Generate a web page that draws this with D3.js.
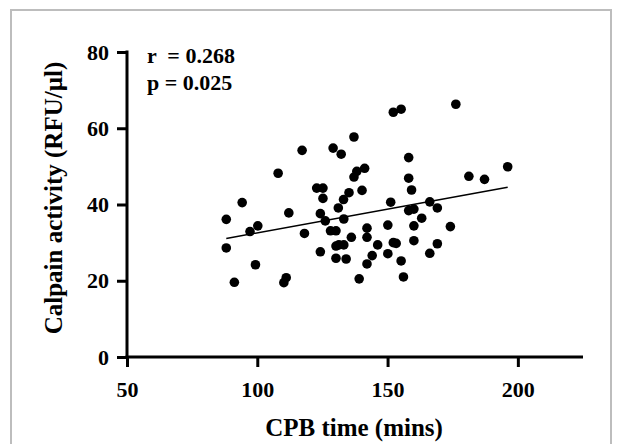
<!DOCTYPE html>
<html>
<head>
<meta charset="utf-8">
<script src="https://cdn.jsdelivr.net/npm/d3@7"></script>
<style>
  html, body { margin: 0; padding: 0; background: #fff; }
  svg { display: block; }
  text { font-family: "Liberation Serif", "Times New Roman", serif; font-weight: bold; fill: #000; }
</style>
</head>
<body>
<svg id="chart" width="619" height="444"></svg>
<script>
// CPB time (mins)
const cpbTime = [88.1, 88.1, 91.2, 94.2, 97.2, 100.2, 99.3, 108.0, 110.2, 111.1,
  112.1, 117.2, 118.1, 122.8, 125.2, 125.2, 124.2, 126.1, 124.2, 128.1,
  130.2, 129.1, 132.2, 131.1, 133.1, 133.2, 130.2, 131.3, 133.2, 130.2,
  134.1, 135.2, 136.1, 137.1, 137.1, 138.2, 140.2, 141.2, 142.1, 142.1,
  142.1, 144.1, 139.1, 146.2, 150.1, 150.1, 151.2, 152.2, 155.2, 152.2,
  153.3, 155.2, 156.1, 158.1, 158.1, 159.2, 158.1, 160.1, 160.1, 160.1,
  163.1, 166.2, 166.2, 169.1, 169.1, 174.1, 176.2, 181.2, 187.2, 196.1];
// Calpain activity (RFU/µl)
const calpain = [36.1, 28.6, 19.6, 40.5, 32.9, 34.4, 24.2, 48.2, 19.5, 20.8,
  37.8, 54.2, 32.4, 44.3, 44.3, 41.6, 37.6, 35.7, 27.6, 33.1,
  33.1, 54.8, 53.2, 39.1, 41.3, 36.2, 29.1, 29.4, 29.4, 25.9,
  25.7, 43.1, 31.4, 57.7, 47.2, 48.7, 43.7, 49.5, 33.8, 31.4,
  24.4, 26.6, 20.5, 29.4, 34.6, 27.1, 40.6, 64.2, 65.0, 30.0,
  29.8, 25.2, 21.0, 52.3, 46.9, 43.8, 38.4, 38.8, 34.4, 30.5,
  36.4, 40.7, 27.2, 39.1, 29.7, 34.2, 66.3, 47.4, 46.6, 49.9];
// Fitted regression line endpoints
const fitX = [88.1, 196.1];
const fitY = [31.1, 44.5];
const xTicks = [50, 100, 150, 200];
const yTicks = [0, 20, 40, 60, 80];
const statLines = ["r  = 0.268", "p = 0.025"];
const xTitle = "CPB time (mins)";
const yTitle = "Calpain activity (RFU/µl)";

const svg = d3.select("#chart");

// outer frame
svg.append("rect")
  .attr("x", 11).attr("y", 10).attr("width", 600).attr("height", 450)
  .attr("fill", "none").attr("stroke", "#bdbdbd").attr("stroke-width", 2);

const x = d3.scaleLinear().domain([50, 225]).range([127, 583]);
const y = d3.scaleLinear().domain([0, 80]).range([357, 52]);

const xAxis = svg.append("g").attr("transform", "translate(0,357)")
  .call(d3.axisBottom(x).tickValues(xTicks).tickSize(10).tickPadding(14).tickSizeOuter(0));
const yAxis = svg.append("g").attr("transform", "translate(127,0)")
  .call(d3.axisLeft(y).tickValues(yTicks).tickSize(10).tickPadding(8).tickSizeOuter(0));

[xAxis, yAxis].forEach(g => {
  g.select(".domain").attr("stroke", "#000").attr("stroke-width", 3);
  g.selectAll(".tick line").attr("stroke", "#000").attr("stroke-width", 3);
  g.selectAll(".tick text").style("font-size", "22px").style("font-family", "Liberation Serif").style("font-weight", "bold");
});
xAxis.select(".domain").attr("d", `M${x(50) - 1.5},0H${x(225)}`);
yAxis.select(".domain").attr("d", `M0,${y(80) - 1.5}V${y(0) + 1.5}`);

// regression line
svg.append("line")
  .attr("x1", x(fitX[0])).attr("y1", y(fitY[0]))
  .attr("x2", x(fitX[1])).attr("y2", y(fitY[1]))
  .attr("stroke", "#000").attr("stroke-width", 1.5);

// points
svg.append("g").selectAll("circle")
  .data(cpbTime.map((d, i) => [d, calpain[i]]))
  .join("circle")
  .attr("cx", d => x(d[0])).attr("cy", d => y(d[1]))
  .attr("r", 4.8).attr("fill", "#000");

// stats
svg.append("g").selectAll("text")
  .data(statLines).join("text")
  .attr("x", 147).attr("y", (d, i) => 63 + i * 27)
  .style("font-size", "22px")
  .style("white-space", "pre")
  .attr("xml:space", "preserve")
  .text(d => d);

// axis titles
svg.append("text")
  .attr("x", 354).attr("y", 436)
  .attr("text-anchor", "middle")
  .style("font-size", "25px")
  .text(xTitle);
svg.append("text")
  .attr("transform", "translate(62,198) rotate(-90)")
  .attr("text-anchor", "middle")
  .style("font-size", "25px")
  .text(yTitle);
</script>
</body>
</html>
